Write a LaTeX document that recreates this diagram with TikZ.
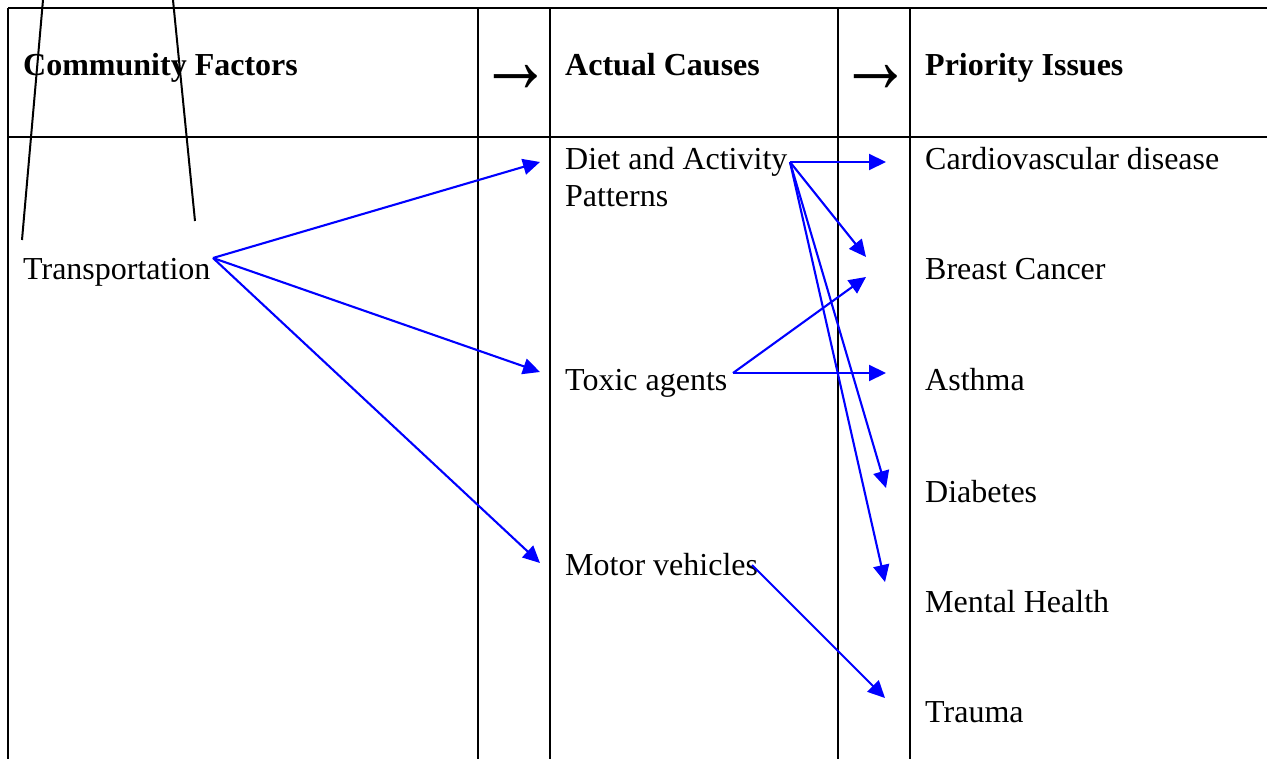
\documentclass[tikz,border=0pt]{standalone}
\usepackage{fontspec}
\setmainfont{Liberation Serif}
\usetikzlibrary{arrows.meta}
\begin{document}
\begin{tikzpicture}[x=1pt,y=-1pt,
  grid/.style={line width=2.8pt,black},
  slant/.style={line width=2pt,black},
  link/.style={line width=2.1pt,blue,-{Triangle[length=17pt,width=16pt]}},
  txt/.style={anchor=base west,inner sep=0pt,font=\fontsize{32}{37}\selectfont},
  head/.style={txt,font=\fontsize{32}{37}\selectfont\bfseries},
  harrow/.style={anchor=center,inner sep=0pt,xscale=1.1,yscale=1.45,font=\fontsize{66}{66}\selectfont\bfseries}]
\useasboundingbox (0,0) rectangle (1267,759);
% table
\draw[grid] (8,8) -- (1267,8);
\draw[grid] (8,137) -- (1267,137);
\foreach \x in {8,478,550,838,910} \draw[grid] (\x,8) -- (\x,759);
% headers
\node[head] (hcf) at (23,76) {Community Factors};
\node[head] (hac) at (565,76) {Actual Causes};
\node[head] (hpi) at (925,76) {Priority Issues};
\node[harrow] (ha1) at (516,79) {→};
\node[harrow] (ha2) at (876,79) {→};
% cells
\node[txt] (trans) at (23,280) {Transportation};
\node[txt] (diet) at (565,170) {Diet and Activity};
\node[txt] (patt) at (565,207) {Patterns};
\node[txt] (toxic) at (565,391) {Toxic agents};
\node[txt] (motor) at (565,575) {Motor vehicles};
\node[txt] (cardio) at (925,170) {Cardiovascular disease};
\node[txt] (breast) at (925,280) {Breast Cancer};
\node[txt] (asthma) at (925,391) {Asthma};
\node[txt] (diab) at (925,502) {Diabetes};
\node[txt] (mental) at (925,612) {Mental Health};
\node[txt] (trauma) at (925,722) {Trauma};
% slanted black lines
\coordinate (s1a) at (43,0); \coordinate (s1b) at (22,240);
\coordinate (s2a) at (173,0); \coordinate (s2b) at (195,221);
\draw[slant] (s1a) -- (s1b);
\draw[slant] (s2a) -- (s2b);
% arrow anchor points
\coordinate (tS) at (213,258);
\coordinate (dS) at (790,162);
\coordinate (xS) at (733,373);
\coordinate (mS) at (752,565);
\coordinate (eDiet) at (540,162);
\coordinate (eTox) at (540,372);
\coordinate (eMot) at (540,563);
\coordinate (eCar) at (886,162);
\coordinate (eBr1) at (866,257);
\coordinate (eBr2) at (866,277);
\coordinate (eAst) at (886,373);
\coordinate (eDia) at (886,488);
\coordinate (eMen) at (885,582);
\coordinate (eTra) at (885,698);
% blue arrows
\draw[link] (tS) -- (eDiet);
\draw[link] (tS) -- (eTox);
\draw[link] (tS) -- (eMot);
\draw[link] (dS) -- (eCar);
\draw[link] (dS) -- (eBr1);
\draw[link] (dS) -- (eDia);
\draw[link] (dS) -- (eMen);
\draw[link] (xS) -- (eBr2);
\draw[link] (xS) -- (eAst);
\draw[link] (mS) -- (eTra);
\end{tikzpicture}
\end{document}
